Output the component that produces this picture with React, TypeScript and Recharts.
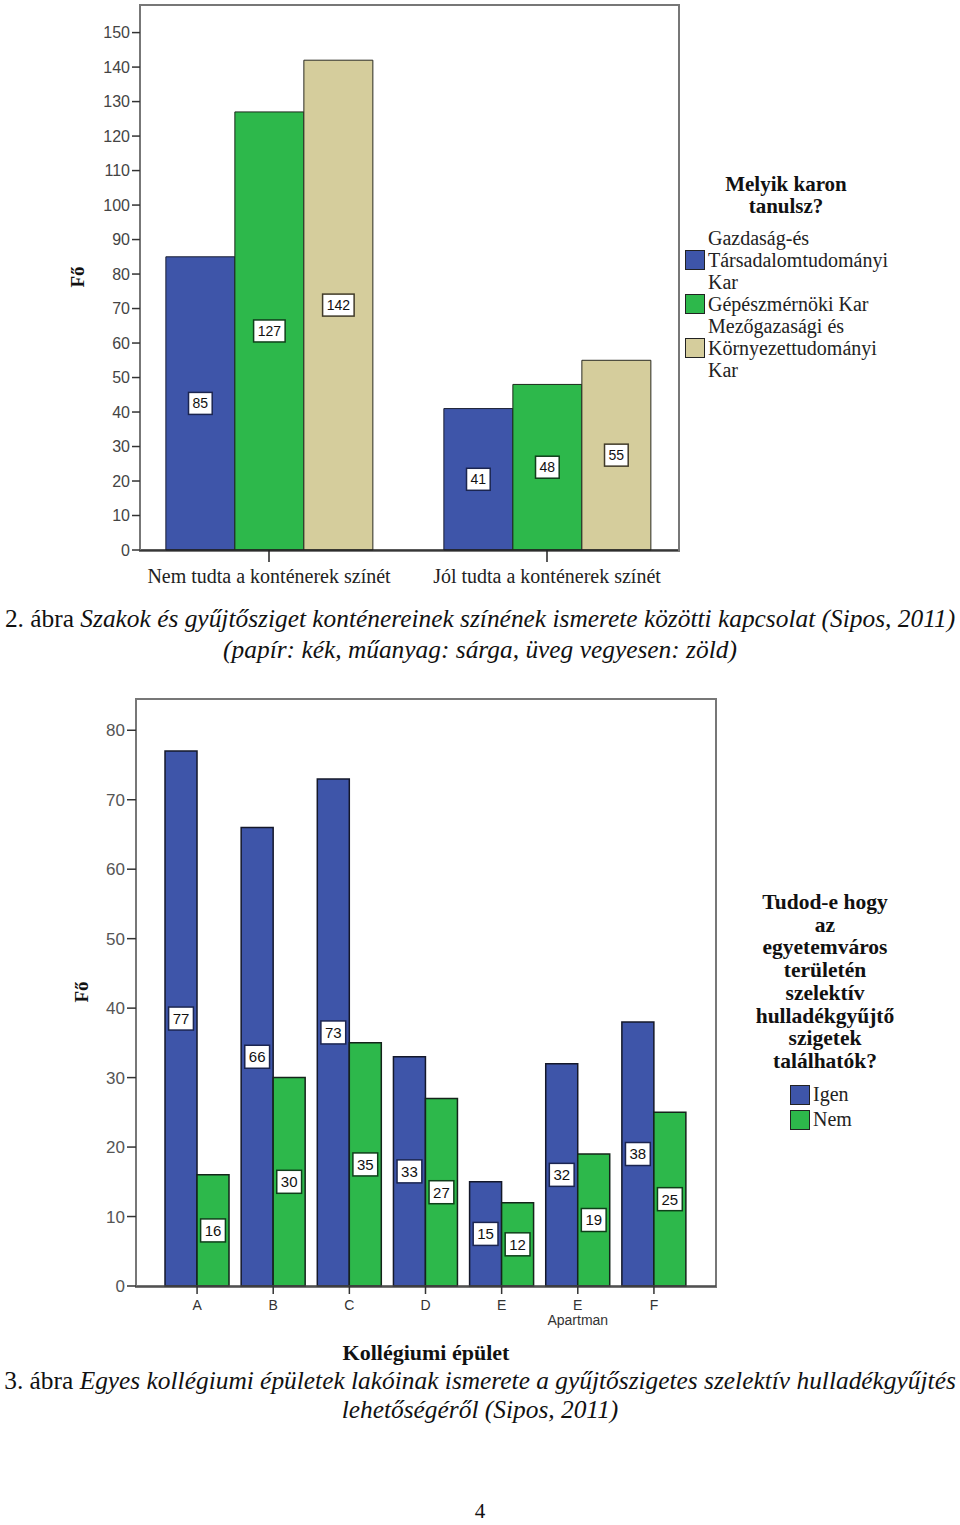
import { BarChart, Bar, XAxis, YAxis, LabelList } from 'recharts';

// Figure 2: knowledge of container colours by faculty
const knowledgeCats = ['Nem tudta a konténerek színét', 'Jól tudta a konténerek színét'];
const gtkValues = [85, 41];
const gepValues = [127, 48];
const mkkValues = [142, 55];
const yTicks1 = [0, 10, 20, 30, 40, 50, 60, 70, 80, 90, 100, 110, 120, 130, 140, 150];
const facultyLegend = [
  ['Gazdaság-és', 'Társadalomtudományi', 'Kar'],
  ['Gépészmérnöki Kar'],
  ['Mezőgazasági és', 'Környezettudományi', 'Kar'],
];

// Figure 3: dormitory buildings
const buildings = ['A', 'B', 'C', 'D', 'E', 'E Apartman', 'F'];
const igenValues = [77, 66, 73, 33, 15, 32, 38];
const nemValues = [16, 30, 35, 27, 12, 19, 25];
const yTicks2 = [0, 10, 20, 30, 40, 50, 60, 70, 80];
const legend2Title = ['Tudod-e hogy', 'az', 'egyetemváros', 'területén', 'szelektív', 'hulladékgyűjtő', 'szigetek', 'találhatók?'];
const answerNames = ['Igen', 'Nem'];

const BLUE = '#3e55a9';
const GREEN = '#2db84b';
const TAN = '#d5cd9c';
const SANS = '"Liberation Sans", Arial, sans-serif';
const SERIF = '"Liberation Serif", "Times New Roman", serif';

const data1 = knowledgeCats.map((name, i) => ({
  name,
  gtk: gtkValues[i],
  gep: gepValues[i],
  mkk: mkkValues[i],
}));

const data2 = buildings.map((name, i) => ({
  name,
  igen: igenValues[i],
  nem: nemValues[i],
}));

const makeBoxLabel = (stroke: string, fontSize: number, h: number) => (props: any) => {
  const { x, y, width, height, value } = props;
  const cx = x + width / 2;
  const cy = y + height / 2;
  const w = String(value).length * (fontSize * 0.56) + 8;
  return (
    <g>
      <rect x={cx - w / 2} y={cy - h / 2} width={w} height={h} fill="#fff" stroke={stroke} strokeWidth={1.5} />
      <text x={cx} y={cy} dy={fontSize * 0.36} textAnchor="middle" fontFamily={SANS} fontSize={fontSize} fill="#111">
        {value}
      </text>
    </g>
  );
};

const Tick1 = (props: any) => {
  const { x, y, payload } = props;
  return (
    <text x={x} y={y} dy={19} textAnchor="middle" fontFamily={SERIF} fontSize={20} fill="#222">
      {payload.value}
    </text>
  );
};

const Tick2 = (props: any) => {
  const { x, y, payload } = props;
  const parts = String(payload.value).split(' ');
  return (
    <text x={x} textAnchor="middle" fontFamily={SANS} fontSize={14} fill="#333">
      {parts.map((p, i) => (
        <tspan key={i} x={x} y={y + 14 + i * 15}>
          {p}
        </tspan>
      ))}
    </text>
  );
};

const swatch = (color: string) => (
  <div style={{ width: 18, height: 18, background: color, border: '1px solid #222', marginRight: 3, flexShrink: 0 }} />
);

export default function App() {
  return (
    <div style={{ position: 'absolute', left: 0, top: 0, width: 960, height: 1525, background: '#fff', fontFamily: SERIF }}>
      {/* chart 1 frame */}
      <div style={{ position: 'absolute', left: 139, top: 4, width: 537, height: 544, border: '2px solid #777' }} />
      <div style={{ position: 'absolute', left: 0, top: 0 }}>
        <BarChart
          width={960}
          height={600}
          data={data1}
          margin={{ top: 5, right: 282, bottom: 20, left: 0 }}
          barCategoryGap="12.9%"
          barGap={0}
        >
          <XAxis
            dataKey="name"
            height={30}
            padding={{ left: -10, right: -8 }}
            tick={<Tick1 />}
            tickSize={12}
            axisLine={{ stroke: '#222', strokeWidth: 1.5 }}
            tickLine={{ stroke: '#222', strokeWidth: 1.5 }}
            interval={0}
          />
          <YAxis
            width={140}
            domain={[0, 158]}
            ticks={yTicks1}
            tickSize={8}
            tick={{ fontFamily: SANS, fontSize: 16, fill: '#444' }}
            axisLine={{ stroke: '#777', strokeWidth: 2 }}
            tickLine={{ stroke: '#333', strokeWidth: 1.5 }}
            label={{
              content: () => (
                <text x={78} y={277} transform="rotate(-90 78 277)" textAnchor="middle" dy={6} fontFamily={SERIF} fontWeight="bold" fontSize={19} fill="#111">
                  Fő
                </text>
              ),
            }}
          />
          <Bar dataKey="gtk" fill={BLUE} stroke="#1b1f33" strokeWidth={1} isAnimationActive={false}>
            <LabelList dataKey="gtk" content={makeBoxLabel('#1b2550', 14, 22)} />
          </Bar>
          <Bar dataKey="gep" fill={GREEN} stroke="#1b2a1b" strokeWidth={1} isAnimationActive={false}>
            <LabelList dataKey="gep" content={makeBoxLabel('#0f3f1a', 14, 22)} />
          </Bar>
          <Bar dataKey="mkk" fill={TAN} stroke="#2a2a22" strokeWidth={1} isAnimationActive={false}>
            <LabelList dataKey="mkk" content={makeBoxLabel('#403a28', 14, 22)} />
          </Bar>
        </BarChart>
      </div>

      {/* legend 1 */}
      <div style={{ position: 'absolute', left: 686, top: 173, width: 210, fontSize: 21, color: '#111' }}>
        <div style={{ textAlign: 'center', fontWeight: 'bold', lineHeight: '22px', width: 200 }}>
          Melyik karon
          <br />
          tanulsz?
        </div>
      </div>
      <div style={{ position: 'absolute', left: 685, top: 227, fontSize: 20, lineHeight: '22px', color: '#222' }}>
        {facultyLegend.map((lines, i) => (
          <div key={i} style={{ display: 'flex', alignItems: 'center' }}>
            {swatch([BLUE, GREEN, TAN][i])}
            <div style={{ whiteSpace: 'nowrap' }}>
              {lines.map((l, j) => (
                <div key={j}>{l}</div>
              ))}
            </div>
          </div>
        ))}
      </div>

      {/* caption 2 */}
      <div style={{ position: 'absolute', left: 0, top: 603, width: 960, textAlign: 'center', fontSize: 25.4, lineHeight: '31px', color: '#111', whiteSpace: 'nowrap' }}>
        2. ábra <i>Szakok és gyűjtősziget konténereinek színének ismerete közötti kapcsolat (Sipos, 2011)</i>
        <br />
        <i>(papír: kék, műanyag: sárga, üveg vegyesen: zöld)</i>
      </div>

      {/* chart 2 frame */}
      <div style={{ position: 'absolute', left: 135, top: 698, width: 578, height: 586, border: '2px solid #777' }} />
      <div style={{ position: 'absolute', left: 0, top: 690 }}>
        <BarChart
          width={740}
          height={680}
          data={data2}
          margin={{ top: 9, right: 24, bottom: 34, left: 0 }}
          barCategoryGap="7.9%"
          barGap={0}
        >
          <XAxis
            dataKey="name"
            height={50}
            padding={{ left: 23, right: 24 }}
            tick={<Tick2 />}
            tickSize={8}
            axisLine={{ stroke: '#444', strokeWidth: 1.5 }}
            tickLine={{ stroke: '#333', strokeWidth: 1.5 }}
            interval={0}
            label={{
              content: () => (
                <text x={426} y={670} textAnchor="middle" fontFamily={SERIF} fontWeight="bold" fontSize={22} fill="#111">
                  Kollégiumi épület
                </text>
              ),
            }}
          />
          <YAxis
            width={136}
            domain={[0, 84.5]}
            ticks={yTicks2}
            tickSize={9}
            tick={{ fontFamily: SANS, fontSize: 17, fill: '#555' }}
            axisLine={{ stroke: '#777', strokeWidth: 2 }}
            tickLine={{ stroke: '#333', strokeWidth: 1.5 }}
            label={{
              content: () => (
                <text x={82} y={302} transform="rotate(-90 82 302)" textAnchor="middle" dy={6} fontFamily={SERIF} fontWeight="bold" fontSize={19} fill="#111">
                  Fő
                </text>
              ),
            }}
          />
          <Bar dataKey="igen" name={answerNames[0]} fill={BLUE} stroke="#14182a" strokeWidth={1.5} isAnimationActive={false}>
            <LabelList dataKey="igen" content={makeBoxLabel('#1b2550', 15, 23)} />
          </Bar>
          <Bar dataKey="nem" name={answerNames[1]} fill={GREEN} stroke="#14241a" strokeWidth={1.5} isAnimationActive={false}>
            <LabelList dataKey="nem" content={makeBoxLabel('#0f3f1a', 15, 23)} />
          </Bar>
        </BarChart>
      </div>

      {/* legend 2 */}
      <div style={{ position: 'absolute', left: 725, top: 891, width: 200, textAlign: 'center', fontWeight: 'bold', fontSize: 21.5, lineHeight: '22.7px', color: '#111' }}>
        {legend2Title.map((l, i) => (
          <div key={i}>{l}</div>
        ))}
      </div>
      <div style={{ position: 'absolute', left: 790, top: 1082, fontSize: 20, lineHeight: '25px', color: '#222' }}>
        {answerNames.map((n, i) => (
          <div key={n} style={{ display: 'flex', alignItems: 'center' }}>
            {swatch([BLUE, GREEN][i])}
            <span>{n}</span>
          </div>
        ))}
      </div>

      {/* caption 3 */}
      <div style={{ position: 'absolute', left: 0, top: 1366, width: 960, textAlign: 'center', fontSize: 25.4, lineHeight: '29px', color: '#111', whiteSpace: 'nowrap' }}>
        3. ábra <i>Egyes kollégiumi épületek lakóinak ismerete a gyűjtőszigetes szelektív hulladékgyűjtés</i>
        <br />
        <i>lehetőségéről (Sipos, 2011)</i>
      </div>

      <div style={{ position: 'absolute', left: 0, top: 1499, width: 960, textAlign: 'center', fontSize: 21, color: '#111' }}>4</div>
    </div>
  );
}
